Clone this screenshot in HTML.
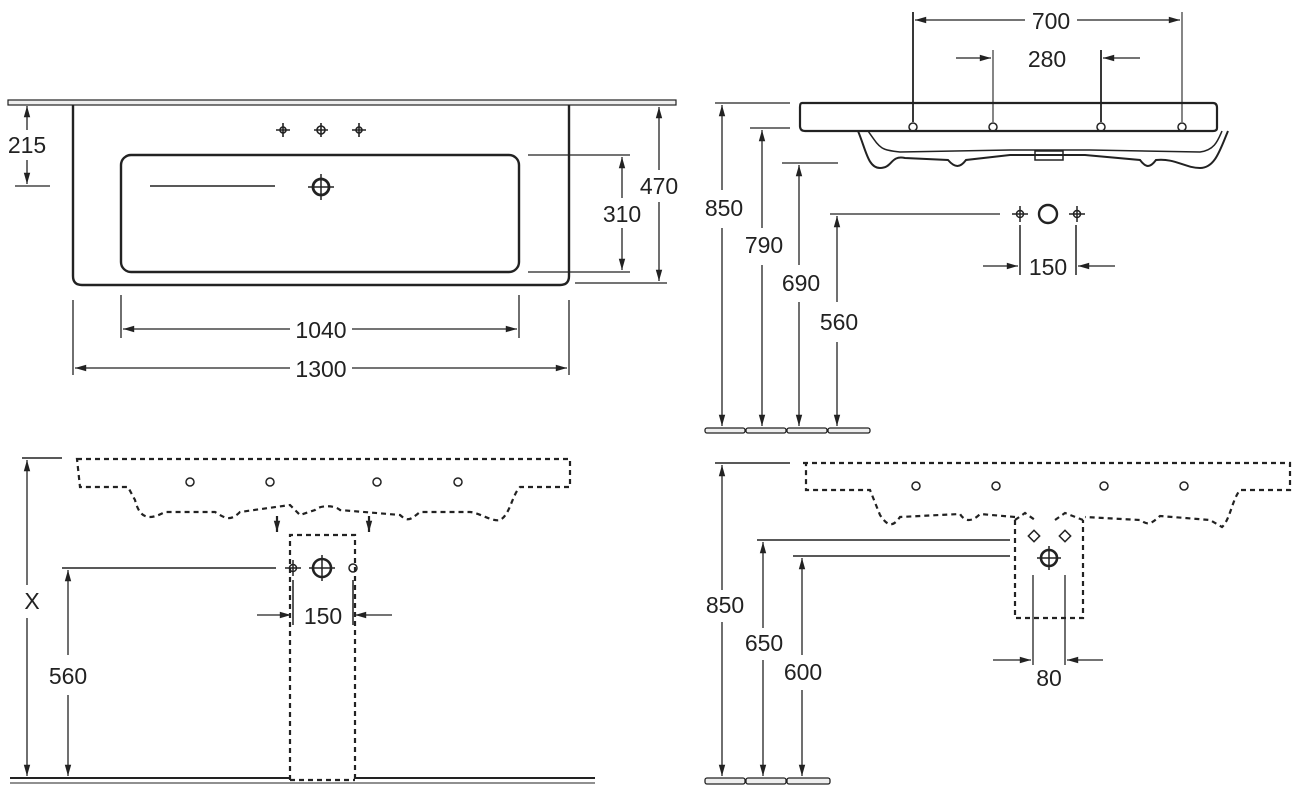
<!DOCTYPE html>
<html><head><meta charset="utf-8"><style>
html,body{margin:0;padding:0;background:#fff;}
svg{display:block;}
text{font-family:"Liberation Sans",sans-serif;font-size:23px;fill:#222;text-anchor:middle;}
</style></head><body>
<svg width="1305" height="800" viewBox="0 0 1305 800" xmlns="http://www.w3.org/2000/svg">
<defs>
<marker id="a" viewBox="0 0 14 10" refX="14" refY="5" markerWidth="14" markerHeight="8" orient="auto" markerUnits="userSpaceOnUse"><path d="M0,1 L14,5 L0,9z" fill="#222"/></marker>
</defs>
<g stroke="#222" fill="none" stroke-width="1.5">
<!-- TOP LEFT -->
<rect x="8" y="100" width="668" height="5" stroke-width="1.2" fill="#eee"/>
<path d="M73,105 V276 Q73,285 82,285 H560 Q569,285 569,276 V105" stroke-width="2.4"/>
<rect x="121" y="155" width="398" height="117" rx="10" stroke-width="2.4"/>
<g stroke-width="1.6">
<path d="M276,130h14M283,123v14M314,130h14M321,123v14M352,130h14M359,123v14"/>
<circle cx="283" cy="130" r="3"/><circle cx="321" cy="130" r="4"/><circle cx="359" cy="130" r="3"/>
</g>
<circle cx="321" cy="187" r="8" stroke-width="2.8"/>
<path d="M308,187h26M321,174v26" stroke-width="1.5"/>
<path d="M150,186H275" stroke-width="1.4"/>
<g stroke-width="1.3">
<path d="M15,186H50M528,155H630M528,272H630M575,283H667M121,295V338M519,295V338M73,300V375M569,300V375"/>
</g>
<g stroke-width="1.3" marker-end="url(#a)">
<path d="M27,130V106"/><path d="M27,160V184"/>
<path d="M622,198V157"/><path d="M622,228V270"/>
<path d="M659,170V107"/><path d="M659,202V281"/>
<path d="M290,329H123"/><path d="M352,329H517"/>
<path d="M290,368H75"/><path d="M352,368H567"/>
</g>
<!-- TOP RIGHT -->
<path d="M802,103 H1213 Q1217,103 1217,108 V128 Q1217,131 1213,131 H805 Q800,131 800,126 V107 Q800,103 802,103Z" stroke-width="2.2"/>
<path d="M858,131 C866,150 868,168 880,168 C893,168 890,155 905,158 L948,160 C955,168 960,168 966,160 L1010,155 L1085,155 L1140,160 C1146,168 1150,168 1156,160 C1175,158 1185,168 1200,168 C1215,168 1220,150 1228,131" stroke-width="2"/>
<path d="M868,131 C880,148 880,150 900,152 L1010,150 L1090,150 L1200,152 C1215,150 1218,140 1222,131" stroke-width="1.5"/>
<rect x="1035" y="151" width="28" height="9" stroke-width="1.5"/>
<g stroke-width="1.5">
<circle cx="913" cy="127" r="4"/><circle cx="993" cy="127" r="4"/><circle cx="1101" cy="127" r="4"/><circle cx="1182" cy="127" r="4"/>
</g>
<path d="M913,12V122M1101,50V122" stroke-width="1.8"/>
<path d="M993,50V122M1182,12V122" stroke-width="1.1"/>
<path d="M715,103H790M750,128H790M782,163H838M830,214H1000" stroke-width="1.3"/>
<g stroke-width="1.3" marker-end="url(#a)">
<path d="M1025,20H915"/><path d="M1077,20H1180"/>
<path d="M956,58H991"/><path d="M1140,58H1103"/>
<path d="M722,190V105"/><path d="M722,228V426"/>
<path d="M762,228V130"/><path d="M762,265V426"/>
<path d="M799,265V165"/><path d="M799,302V426"/>
<path d="M837,302V216"/><path d="M837,342V426"/>
<path d="M983,266H1018"/><path d="M1115,266H1078"/>
</g>
<g stroke-width="1.5">
<path d="M1012,214h16M1020,206v16M1069,214h16M1077,206v16"/>
<circle cx="1020" cy="214" r="3.5"/><circle cx="1077" cy="214" r="3.5"/>
</g>
<circle cx="1048" cy="214" r="9" stroke-width="2.4"/>
<path d="M1020,225V275M1076,225V275" stroke-width="1.5"/>
<g stroke-width="1.3" fill="#eee"><rect x="705" y="428" width="40" height="5" rx="2"/><rect x="746" y="428" width="40" height="5" rx="2"/><rect x="787" y="428" width="40" height="5" rx="2"/><rect x="828" y="428" width="42" height="5" rx="2"/></g>
<!-- BOTTOM LEFT -->
<g stroke-dasharray="5,4" stroke-width="2.2">
<path d="M77,459 H570 V487 H520 C512,495 510,515 500,520 C492,522 480,513 470,512 L420,512 C410,520 408,522 400,515 L340,510 C335,505 320,505 315,510 L300,515 L290,505 L240,512 C230,522 225,518 215,512 L165,512 C150,520 140,520 135,500 L128,487 H80 Z"/>
<path d="M290,780V535H355V780M290,780H355"/>
</g>
<g stroke-width="2.2" marker-end="url(#a)"><path d="M277,516V532"/><path d="M369,516V532"/></g>
<g stroke-width="1.5"><circle cx="190" cy="482" r="4"/><circle cx="270" cy="482" r="4"/><circle cx="377" cy="482" r="4"/><circle cx="458" cy="482" r="4"/>
<path d="M285,568h16M293,560v16"/><circle cx="293" cy="568" r="3.5"/><circle cx="353" cy="568" r="4"/></g>
<circle cx="322" cy="568" r="9" stroke-width="2.6"/>
<path d="M309,568h26M322,555v26" stroke-width="1.5"/>
<path d="M62,568H276M22,458H62" stroke-width="1.4"/>
<path d="M293,580V625M353,580V625" stroke-width="1.5"/>
<g stroke-width="1.3" marker-end="url(#a)">
<path d="M27,585V460"/><path d="M27,618V776"/>
<path d="M68,655V570"/><path d="M68,695V776"/>
<path d="M257,615H291"/><path d="M392,615H355"/>
</g>
<path d="M10,778H290M355,778H595" stroke-width="2"/>
<path d="M10,783H595" stroke-width="1.1"/>
<!-- BOTTOM RIGHT -->
<g stroke-dasharray="5,4" stroke-width="2.2">
<path d="M803,463 H1290 V490 H1240 C1232,500 1230,520 1222,527 L1210,520 L1160,516 C1150,525 1148,525 1140,520 L1085,517"/>
<path d="M1015,517 L980,514 C972,522 965,522 960,514 L900,517 C893,527 888,527 880,515 L870,490 H806 V463"/>
<path d="M1015,520V618H1083V520 M1015,520 L1025,513 L1035,520 M1055,520 L1065,513 L1083,520"/>
</g>
<g stroke-width="1.5"><circle cx="916" cy="486" r="4"/><circle cx="996" cy="486" r="4"/><circle cx="1104" cy="486" r="4"/><circle cx="1184" cy="486" r="4"/>
<rect x="1030" y="532" width="8" height="8" transform="rotate(45 1034 536)"/><rect x="1061" y="532" width="8" height="8" transform="rotate(45 1065 536)"/></g>
<circle cx="1049" cy="558" r="8" stroke-width="2.6"/>
<path d="M1037,558h24M1049,546v24" stroke-width="1.5"/>
<path d="M1033,575V665M1065,575V665" stroke-width="1.3"/>
<path d="M715,463H790M757,540H1010M793,556H1010" stroke-width="1.4"/>
<g stroke-width="1.3" marker-end="url(#a)">
<path d="M993,660H1031"/><path d="M1103,660H1067"/>
<path d="M722,590V465"/><path d="M722,622V776"/>
<path d="M763,628V542"/><path d="M763,660V776"/>
<path d="M802,655V558"/><path d="M802,690V776"/>
</g>
<g stroke-width="1.3" fill="#eee"><rect x="705" y="778" width="40" height="6" rx="2"/><rect x="746" y="778" width="40" height="6" rx="2"/><rect x="787" y="778" width="43" height="6" rx="2"/></g>
</g>
<g>
<text x="27" y="153">215</text>
<text x="659" y="194">470</text>
<text x="622" y="222">310</text>
<text x="321" y="338">1040</text>
<text x="321" y="377">1300</text>
<text x="1051" y="29">700</text>
<text x="1047" y="67">280</text>
<text x="724" y="216">850</text>
<text x="764" y="253">790</text>
<text x="801" y="291">690</text>
<text x="839" y="330">560</text>
<text x="1048" y="275">150</text>
<text x="32" y="609">X</text>
<text x="68" y="684">560</text>
<text x="323" y="624">150</text>
<text x="725" y="613">850</text>
<text x="764" y="651">650</text>
<text x="803" y="680">600</text>
<text x="1049" y="686">80</text>
</g>
</svg>
</body></html>
